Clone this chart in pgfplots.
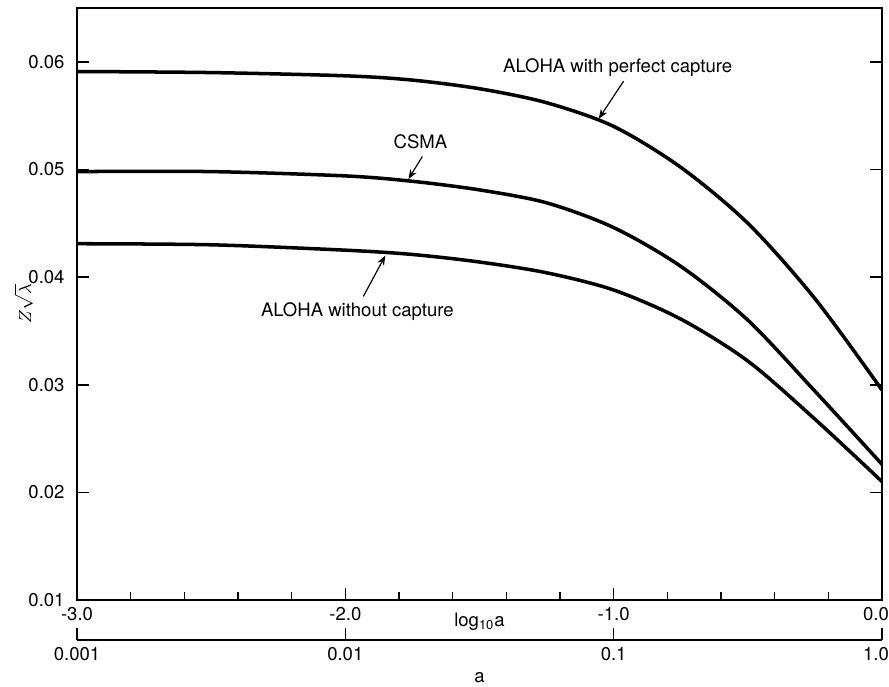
\documentclass[border=0pt]{standalone}
\usepackage{fontspec}
\setmainfont{TeX Gyre Heros}
\usepackage{pgfplots}
\pgfplotsset{compat=1.18}
\usetikzlibrary{arrows.meta}

\newcommand{\lblfont}{\fontsize{9.5}{11}\selectfont}
% last tick label: kept inside the page, as in the reference
\newcommand{\rlab}[1]{\hspace*{0.25cm}\makebox[0pt][r]{#1}}

\begin{document}
\begin{tikzpicture}
% page frame in the reference's proportions
\useasboundingbox (-1.386cm,-1.566cm) rectangle (14.616cm,10.8cm);

\begin{axis}[name=main, at={(0,0)}, anchor=south west, scale only axis,
  width=14.49cm, height=10.656cm,
  xmin=-3, xmax=0, ymin=0.01, ymax=0.065,
  xtick={-3,-2,-1,0}, xticklabels={-3.0,-2.0,-1.0,\rlab{0.0}},
  minor x tick num=4,
  ytick={0.01,0.02,0.03,0.04,0.05,0.06},
  yticklabels={0.01,0.02,0.03,0.04,0.05,0.06},
  scaled y ticks=false,
  xtick pos=left, ytick pos=both, tick align=inside,
  major tick length=0.22cm, minor tick length=0.14cm,
  axis line style={line width=1pt}, tick style={line width=0.8pt, black},
  tick label style={font=\lblfont},
  yticklabel style={xshift=-0.1cm},
  xlabel={log\textsubscript{10}a}, ylabel={$Z\sqrt{\lambda}$},
  label style={font=\lblfont},
  xlabel style={at={(axis description cs:0.5,-0.036)}, anchor=center},
  ylabel style={at={(axis description cs:-0.066,0.5)}, anchor=center},
  cycle list={{black}},
  every axis plot/.append style={line width=1.8pt, smooth, no marks}]

% ALOHA with perfect capture
\addplot coordinates {(-3.0,0.0591) (-2.5,0.0590) (-2.0,0.0587) (-1.75,0.0583)
  (-1.5,0.0575) (-1.25,0.0562) (-1.0,0.0540) (-0.75,0.0502) (-0.5,0.0450)
  (-0.25,0.0380) (0,0.0295)};
% CSMA
\addplot coordinates {(-3,0.0498) (-2.5,0.0498) (-2.0,0.0494) (-1.75,0.0489)
  (-1.5,0.0481) (-1.25,0.0469) (-1.0,0.0446) (-0.75,0.0410) (-0.5,0.0360)
  (-0.25,0.0294) (0,0.0226)};
% ALOHA without capture
\addplot coordinates {(-3,0.0431) (-2.5,0.0430) (-2.0,0.0425) (-1.75,0.0421)
  (-1.5,0.0414) (-1.25,0.0404) (-1.0,0.0388) (-0.75,0.0361) (-0.5,0.0322)
  (-0.25,0.0268) (0,0.0210)};

\node[font=\lblfont] at (axis cs:-0.985,0.0595) {ALOHA with perfect capture};
\draw[-{Stealth[length=5pt]}, line width=0.6pt] (axis cs:-0.963,0.0582) -- (axis cs:-1.056,0.0547);
\node[font=\lblfont] at (axis cs:-1.72,0.0526) {CSMA};
\draw[-{Stealth[length=5pt]}, line width=0.6pt] (axis cs:-1.713,0.0512) -- (axis cs:-1.765,0.0491);
\node[font=\lblfont] at (axis cs:-1.955,0.0368) {ALOHA without capture};
\draw[-{Stealth[length=5pt]}, line width=0.6pt] (axis cs:-1.933,0.0382) -- (axis cs:-1.851,0.0420);
\end{axis}

% second scale: a
\begin{axis}[at={(0,-0.72cm)}, anchor=south west, scale only axis,
  width=14.49cm, height=0.5cm,
  xmode=log, xmin=0.001, xmax=1, ymin=0, ymax=1,
  axis x line*=bottom, axis y line=none,
  xtick={0.001,0.01,0.1,1}, xticklabels={0.001,0.01,0.1,\rlab{1.0}},
  xminorticks=false,
  tick align=inside, major tick length=0.22cm,
  axis line style={line width=1pt}, tick style={line width=0.8pt, black},
  tick label style={font=\lblfont},
  xlabel={a}, label style={font=\lblfont},
  xlabel style={at={(axis description cs:0.5,0)}, anchor=center, yshift=-0.68cm}]
\addplot[draw=none] coordinates {(0.001,0) (1,0)};
\end{axis}
\end{tikzpicture}
\end{document}
